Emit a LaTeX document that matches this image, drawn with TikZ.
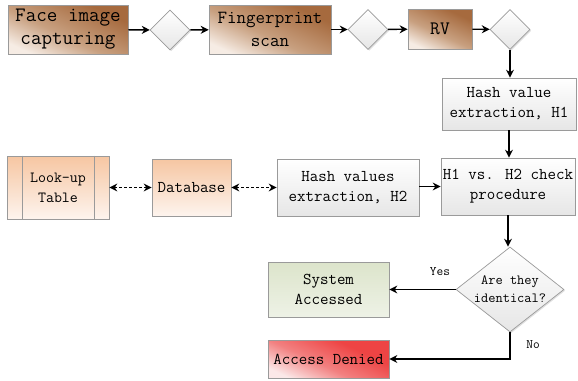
\documentclass[tikz,border=0pt]{standalone}
\usepackage{fontspec}
\usetikzlibrary{arrows.meta,shapes.geometric,shadows}
\definecolor{bordc}{HTML}{9A9A9A}
\definecolor{brownD}{HTML}{A66A3E}
\definecolor{brownM}{HTML}{C8A080}
\definecolor{brownL}{HTML}{F6ECE4}
\definecolor{peachT}{HTML}{F6C6A2}
\definecolor{peachB}{HTML}{FDF4EE}
\definecolor{greyB}{HTML}{E6E6E6}
\definecolor{greenT}{HTML}{DCE4CB}
\definecolor{greenB}{HTML}{EEF2E6}
\definecolor{redD}{HTML}{EE4444}
\definecolor{redM}{HTML}{F28080}
\definecolor{redL}{HTML}{FBE8E8}
\pgfdeclareverticalshading{brownsh}{100bp}{color(0bp)=(brownL); color(24bp)=(brownL); color(45bp)=(brownM); color(72bp)=(brownD); color(100bp)=(brownD)}
\pgfdeclareverticalshading{redsh}{100bp}{color(0bp)=(redL); color(24bp)=(redL); color(44bp)=(redM); color(66bp)=(redD); color(100bp)=(redD)}
\tikzset{
  base/.style={draw=bordc, line width=0.7pt, inner sep=0pt, align=center,
    font=\ttfamily, drop shadow={shadow xshift=1.2pt, shadow yshift=-1.2pt, opacity=0.25}},
  brownbox/.style={base, shading=brownsh, shading angle=-25},
  peachbox/.style={base, top color=peachT, bottom color=peachB},
  whitebox/.style={base, top color=white, bottom color=greyB},
  greenbox/.style={base, top color=greenT, bottom color=greenB},
  redbox/.style={base, shading=redsh, shading angle=-25},
  dia/.style={base, diamond, top color=white, bottom color=greyB, minimum width=40pt, minimum height=40pt},
  mid/.style={font=\ttfamily\fontsize{16.5}{20}\selectfont},
  arr/.style={line width=1.4pt, -{Stealth[length=8pt,width=8pt]}},
  darr/.style={line width=1.4pt, dash pattern=on 3pt off 2pt, {Stealth[length=8pt,width=8pt]}-{Stealth[length=8pt,width=8pt]}},
  lbl/.style={font=\ttfamily\fontsize{13}{15}\selectfont}
}
\begin{document}
\begin{tikzpicture}[x=1pt,y=-1pt]
\useasboundingbox (0,0) rectangle (578,380);
% top row
\node[brownbox, font=\ttfamily\fontsize{20.5}{23}\selectfont, minimum width=120pt, minimum height=49pt] (face) at (68,29.5) {Face image\\capturing};
\node[dia] (d1) at (170,30) {};
\node[brownbox, font=\ttfamily\fontsize{18.5}{23}\selectfont, minimum width=122pt, minimum height=49pt] (finger) at (270,29.5) {Fingerprint\\scan};
\node[dia] (d2) at (368,29.5) {};
\node[brownbox, font=\ttfamily\fontsize{19}{23}\selectfont, minimum width=64pt, minimum height=40pt] (rv) at (440,29) {RV};
\node[dia] (d3) at (510,29.5) {};
% right column
\node[whitebox, mid, minimum width=134pt, minimum height=52pt] (h1) at (509,104) {Hash value\\extraction, H1};
\node[whitebox, mid, minimum width=134pt, minimum height=57pt] (cmp) at (508,186.5) {H1 vs. H2 check\\procedure};
\node[whitebox, mid, minimum width=142pt, minimum height=57pt] (h2) at (348,187.5) {Hash values\\extraction, H2};
\node[peachbox, mid, minimum width=79pt, minimum height=57pt] (db) at (191.5,187.5) {Database};
\node[peachbox, font=\ttfamily\fontsize{15.5}{20}\selectfont, minimum width=102pt, minimum height=63pt] (lut) at (58,187.5) {Look-up\\Table};
\draw[bordc, line width=0.7pt] ([xshift=16pt]lut.north west) -- ([xshift=16pt]lut.south west);
\draw[bordc, line width=0.7pt] ([xshift=-15pt]lut.north east) -- ([xshift=-15pt]lut.south east);
% decision
\node[base, diamond, top color=white, bottom color=greyB, font=\ttfamily\fontsize{14}{18}\selectfont,
  minimum width=108pt, minimum height=85pt, aspect=1.27] (dec) at (510,289.5) {Are they\\identical?};
\node[greenbox, mid, minimum width=121pt, minimum height=55pt] (sys) at (328.5,289.5) {System\\Accessed};
\node[redbox, mid, minimum width=121pt, minimum height=38pt] (den) at (328.5,359) {Access Denied};
% connectors
\draw[arr] (face) -- (d1);
\draw[arr] (d1) -- (finger);
\draw[arr] (finger) -- (d2);
\draw[arr] (d2) -- (rv);
\draw[arr] (rv) -- (d3);
\draw[arr] (d3.south) -- (d3.south |- h1.north);
\draw[arr] (h1.south) -- (h1.south |- cmp.north);
\draw[arr] (h2.east |- cmp.west) -- (cmp.west);
\draw[darr] (lut.east |- db.west) -- (db.west);
\draw[darr] (db.east) -- (h2.west);
\draw[arr] (cmp.south) -- (cmp.south |- dec.north);
\draw[arr] (dec.west) -- (sys.east |- dec.west);
\coordinate (bend) at (dec.south |- den.east);
\draw[arr] (dec.south) -- (bend) -- (den.east);
\node[lbl] (yes) at (440,272) {Yes};
\node[lbl] (no) at (533,345) {No};
\end{tikzpicture}
\end{document}
